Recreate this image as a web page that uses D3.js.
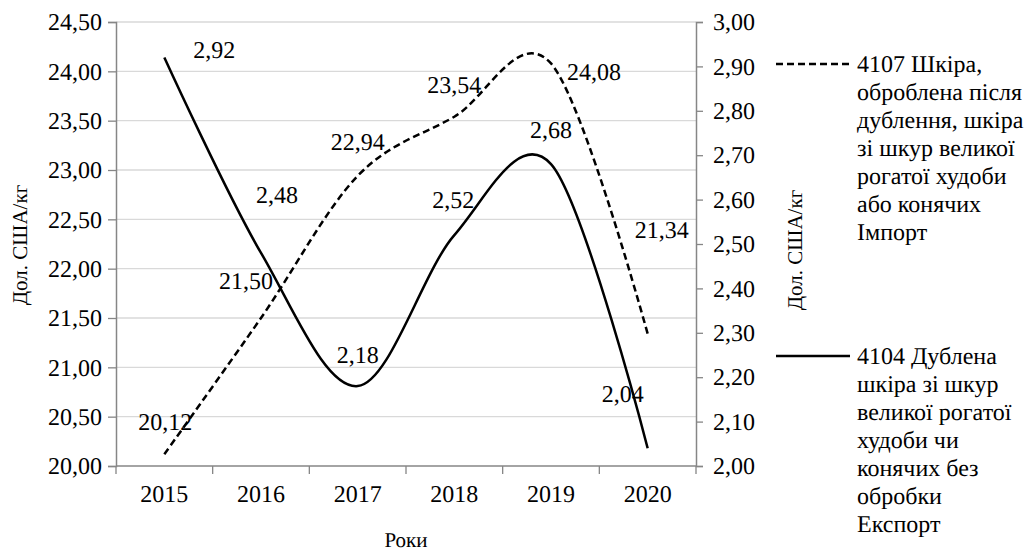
<!DOCTYPE html>
<html><head><meta charset="utf-8">
<script src="https://cdn.jsdelivr.net/npm/d3@7"></script>
<style>html,body{margin:0;padding:0;background:#fff;} svg text{text-rendering:geometricPrecision;}</style></head>
<body><svg id="chart" width="1033" height="551"></svg>
<script>
const years = ["2015","2016","2017","2018","2019","2020"];
const importValues = [20.12, 21.50, 22.94, 23.54, 24.08, 21.34];
const exportValues = [2.92, 2.48, 2.18, 2.52, 2.68, 2.04];
const leftTicks = [20.0,20.5,21.0,21.5,22.0,22.5,23.0,23.5,24.0,24.5];
const rightTicks = [2.0,2.1,2.2,2.3,2.4,2.5,2.6,2.7,2.8,2.9,3.0];
const importName = ["4107 Шкіра,","оброблена після","дублення, шкіра","зі шкур великої","рогатої худоби","або конячих","Імпорт"];
const exportName = ["4104 Дублена","шкіра зі шкур","великої рогатої","худоби чи","конячих без","обробки","Експорт"];
const yTitle = "Дол. США/кг";
const xTitle = "Роки";

// label placement offsets (layout, px)
const importLabelOffset = [[1,-32],[-15,-37],[0,-34],[0,-32],[43,8],[14,-104]];
const exportLabelOffset = [[50,-8],[16,-58],[0,-31],[-1,-35],[0,-34],[-25,-54]];

const L = 116, R = 696, T = 22, B = 466;
const FS = 24, FT = 21;
const FF = "Liberation Serif";
const fmt = v => d3.format(".2f")(v).replace(".", ",");

const svg = d3.select("#chart").attr("font-family", FF).attr("text-rendering","geometricPrecision");
const x = d3.scaleBand().domain(years).range([L, R]).padding(0);
const cx = d => x(d) + x.bandwidth()/2;
const yL = d3.scaleLinear().domain([20, 24.5]).range([B, T]);
const yR = d3.scaleLinear().domain([2, 3]).range([B, T]);

// gridlines
svg.append("g").selectAll("line").data(leftTicks.slice(1)).join("line")
  .attr("x1", L).attr("x2", R).attr("y1", d=>yL(d)).attr("y2", d=>yL(d))
  .attr("stroke", "#d9d9d9").attr("stroke-width", 1.3);

const axisCol = "#868686";
const gL = svg.append("g").attr("transform", `translate(${L},0)`)
  .call(d3.axisLeft(yL).tickValues(leftTicks).tickFormat(fmt).tickSize(8).tickPadding(6));
const gR = svg.append("g").attr("transform", `translate(${R},0)`)
  .call(d3.axisRight(yR).tickValues(rightTicks).tickFormat(fmt).tickSize(7).tickPadding(10));
const gB = svg.append("g").attr("transform", `translate(0,${B})`)
  .call(d3.axisBottom(x).tickSize(0).tickPadding(19));
[gL,gR,gB].forEach(g=>{
  g.attr("font-family", FF).attr("font-size", FS);
  g.select(".domain").attr("stroke", axisCol).attr("stroke-width", 1.5);
  g.selectAll(".tick line").attr("stroke", axisCol).attr("stroke-width", 1.3);
  g.selectAll(".tick text").attr("fill","#000");
});
gB.select(".domain").attr("d", `M${L},0H${R}`);
const bounds = years.map(d=>x(d)).concat([x(years[years.length-1]) + x.bandwidth()]);
gB.append("g").selectAll("line").data(bounds).join("line")
  .attr("x1", d=>d).attr("x2", d=>d).attr("y1", 0).attr("y2", 8)
  .attr("stroke", axisCol).attr("stroke-width", 1.3);

// lines
const lineImp = d3.line().x((d,i)=>cx(years[i])).y(d=>yL(d)).curve(d3.curveCardinal.tension(0));
const lineExp = d3.line().x((d,i)=>cx(years[i])).y(d=>yR(d)).curve(d3.curveCardinal.tension(0));
svg.append("path").datum(importValues).attr("d", lineImp).attr("fill","none")
  .attr("stroke","#000").attr("stroke-width",2.5).attr("stroke-dasharray","7,4");
svg.append("path").datum(exportValues).attr("d", lineExp).attr("fill","none")
  .attr("stroke","#000").attr("stroke-width",2.5);

// data labels
svg.append("g").attr("font-family",FF).attr("font-size",FS).selectAll("text").data(importValues).join("text")
  .attr("x",(d,i)=>cx(years[i]) + importLabelOffset[i][0])
  .attr("y",(d,i)=>yL(d) + importLabelOffset[i][1])
  .attr("dy","0.34em").attr("text-anchor","middle").text(fmt);
svg.append("g").attr("font-family",FF).attr("font-size",FS).selectAll("text").data(exportValues).join("text")
  .attr("x",(d,i)=>cx(years[i]) + exportLabelOffset[i][0])
  .attr("y",(d,i)=>yR(d) + exportLabelOffset[i][1])
  .attr("dy","0.34em").attr("text-anchor","middle").text(fmt);

// axis titles
const gt = svg.append("g").attr("font-family",FF).attr("font-size",FT).attr("text-anchor","middle");
gt.append("text").attr("transform","translate(20,245) rotate(-90)").attr("dy","0.34em").text(yTitle);
gt.append("text").attr("transform","translate(795,250) rotate(-90)").attr("dy","0.34em").text(yTitle);
gt.append("text").attr("x",(L+R)/2).attr("y",540).attr("dy","0.34em").text(xTitle);

// legend
const legX1 = 776, legX2 = 850, legTX = 857, lh = 28;
const legends = [{y:64, name:importName, dash:"7,4"},{y:356, name:exportName, dash:null}];
legends.forEach(l=>{
  svg.append("line").attr("x1",legX1).attr("x2",legX2).attr("y1",l.y).attr("y2",l.y)
    .attr("stroke","#000").attr("stroke-width",2.5).attr("stroke-dasharray",l.dash);
  svg.append("g").attr("font-family",FF).attr("font-size",FS).selectAll("text").data(l.name).join("text")
    .attr("x",legTX).attr("y",(d,i)=>l.y + i*lh).attr("dy","0.34em").text(d=>d);
});
</script></body></html>
